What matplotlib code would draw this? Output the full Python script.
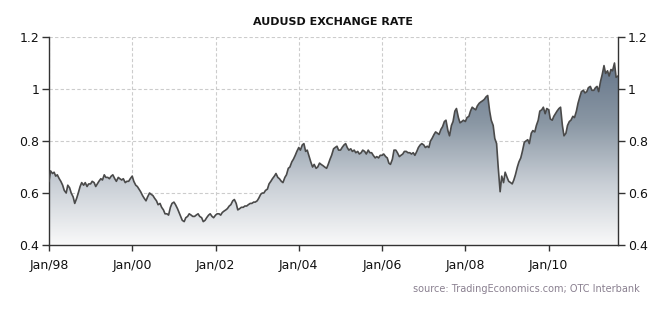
import matplotlib
matplotlib.use('Agg')
import numpy as np
import pandas as pd
import matplotlib.pyplot as plt
import matplotlib.dates as mdates
from matplotlib.colors import LinearSegmentedColormap

# AUDUSD, dois valores por mês (dia 1 e dia 15), jan/1998 - set/2011
rate_1998 = [0.645, 0.685, 0.675, 0.68, 0.665, 0.67, 0.655, 0.645, 0.63, 0.61, 0.60, 0.63,
             0.62, 0.60, 0.585, 0.56, 0.58, 0.60, 0.625, 0.64, 0.63, 0.64, 0.625, 0.635]
rate_1999 = [0.635, 0.645, 0.64, 0.625, 0.635, 0.645, 0.655, 0.65, 0.67, 0.66, 0.66, 0.655,
             0.665, 0.67, 0.655, 0.645, 0.66, 0.655, 0.65, 0.655, 0.64, 0.645, 0.645, 0.655]
rate_2000 = [0.665, 0.645, 0.63, 0.625, 0.615, 0.605, 0.59, 0.58, 0.57, 0.585, 0.60, 0.595,
             0.59, 0.58, 0.57, 0.555, 0.56, 0.545, 0.535, 0.52, 0.52, 0.515, 0.545, 0.56]
rate_2001 = [0.565, 0.555, 0.54, 0.525, 0.51, 0.495, 0.49, 0.505, 0.51, 0.52, 0.515, 0.51,
             0.51, 0.515, 0.52, 0.51, 0.505, 0.49, 0.495, 0.505, 0.515, 0.52, 0.51, 0.505]
rate_2002 = [0.515, 0.52, 0.52, 0.515, 0.525, 0.53, 0.535, 0.54, 0.55, 0.555, 0.57, 0.575,
             0.56, 0.535, 0.54, 0.545, 0.545, 0.55, 0.55, 0.555, 0.56, 0.56, 0.565, 0.565]
rate_2003 = [0.57, 0.58, 0.595, 0.60, 0.60, 0.61, 0.615, 0.635, 0.645, 0.655, 0.665, 0.675,
             0.66, 0.655, 0.645, 0.64, 0.66, 0.67, 0.695, 0.70, 0.72, 0.73, 0.745, 0.76]
rate_2004 = [0.775, 0.765, 0.785, 0.79, 0.76, 0.765, 0.74, 0.72, 0.70, 0.71, 0.695, 0.70,
             0.715, 0.71, 0.705, 0.70, 0.695, 0.71, 0.73, 0.745, 0.77, 0.775, 0.78, 0.765]
rate_2005 = [0.765, 0.775, 0.785, 0.79, 0.775, 0.765, 0.77, 0.76, 0.765, 0.755, 0.76, 0.75,
             0.755, 0.765, 0.76, 0.75, 0.765, 0.755, 0.755, 0.745, 0.735, 0.74, 0.735, 0.745]
rate_2006 = [0.745, 0.75, 0.74, 0.735, 0.715, 0.71, 0.73, 0.765, 0.765, 0.755, 0.74, 0.745,
             0.75, 0.76, 0.76, 0.755, 0.755, 0.75, 0.755, 0.745, 0.76, 0.775, 0.785, 0.79]
rate_2007 = [0.785, 0.775, 0.78, 0.775, 0.80, 0.81, 0.825, 0.835, 0.83, 0.825, 0.845, 0.855,
             0.875, 0.88, 0.84, 0.82, 0.86, 0.875, 0.915, 0.925, 0.89, 0.87, 0.875, 0.88]
rate_2008 = [0.875, 0.89, 0.895, 0.915, 0.93, 0.925, 0.92, 0.935, 0.945, 0.95, 0.955, 0.96,
             0.97, 0.975, 0.915, 0.88, 0.86, 0.81, 0.79, 0.70, 0.605, 0.665, 0.64, 0.68]
rate_2009 = [0.66, 0.645, 0.64, 0.635, 0.65, 0.67, 0.70, 0.72, 0.735, 0.76, 0.795, 0.80,
             0.805, 0.79, 0.83, 0.84, 0.835, 0.86, 0.88, 0.915, 0.92, 0.93, 0.905, 0.925]
rate_2010 = [0.92, 0.885, 0.88, 0.895, 0.905, 0.915, 0.925, 0.93, 0.86, 0.82, 0.83, 0.86,
             0.875, 0.88, 0.895, 0.89, 0.915, 0.945, 0.97, 0.99, 0.995, 0.985, 0.99, 1.005]
rate_2011 = [1.01, 0.995, 0.995, 1.005, 1.01, 0.99, 1.03, 1.055, 1.09, 1.06, 1.07, 1.05,
             1.075, 1.07, 1.10, 1.045, 1.05]

y_ticks = [0.4, 0.6, 0.8, 1.0, 1.2]
y_labels = ['0.4', '0.6', '0.8', '1', '1.2']
x_ticks = ['1998-01-01', '2000-01-01', '2002-01-01', '2004-01-01',
           '2006-01-01', '2008-01-01', '2010-01-01']
x_labels = ['Jan/98', 'Jan/00', 'Jan/02', 'Jan/04', 'Jan/06', 'Jan/08', 'Jan/10']

rate = (rate_1998 + rate_1999 + rate_2000 + rate_2001 + rate_2002 + rate_2003 +
        rate_2004 + rate_2005 + rate_2006 + rate_2007 + rate_2008 + rate_2009 +
        rate_2010 + rate_2011)
datas = pd.date_range('1998-01-01', periods=len(rate), freq='SMS')
x = mdates.date2num(datas)

fig = plt.figure(figsize=(6.6, 3.12), dpi=100)
ax = fig.add_axes([0.0742, 0.2147, 0.8622, 0.6667])

ymin, ymax = 0.4, 1.2
# preenchimento em degradê por baixo da linha
cmap = LinearSegmentedColormap.from_list('grad', ['#f9f9f9', '#c9cfd6', '#8a97a4', '#66768a'])
grad = np.linspace(0, 1, 256).reshape(-1, 1)
im = ax.imshow(grad, cmap=cmap, aspect='auto', origin='lower',
               extent=[x[0], x[-1], ymin, max(rate)], zorder=1)
poly = ax.fill_between(x, rate, ymin, color='none', lw=0)
clip = poly.get_paths()[0]
im.set_clip_path(clip, transform=ax.transData)

ax.plot(x, rate, color='#4a4a4a', lw=1.2, zorder=3)

ax.set_xlim(x[0], x[-1])
ax.set_ylim(ymin, ymax)
ax.set_yticks(y_ticks)
ax.set_yticklabels(y_labels)
ax.set_xticks(mdates.date2num(pd.to_datetime(x_ticks)))
ax.set_xticklabels(x_labels)

ax.grid(True, color='#cccccc', linestyle=(0, (3, 2)), lw=0.8, zorder=0)
ax.set_axisbelow(True)
for lado in ['left', 'right', 'bottom']:
    ax.spines[lado].set_color('#333333')
    ax.spines[lado].set_linewidth(1.0)
ax.spines['top'].set_visible(False)

ax.tick_params(axis='y', which='both', left=True, right=True, labelleft=True,
               labelright=True, direction='out', length=5, width=1,
               color='#333333', labelsize=9, labelcolor='#111111', pad=2)
ax.tick_params(axis='x', direction='out', length=4, width=1, color='#333333',
               labelsize=9, labelcolor='#111111', pad=6)

fig.text(0.505, 0.93, 'AUDUSD EXCHANGE RATE', ha='center', va='center',
         fontsize=8, fontweight='semibold', color='#111111')
fig.text(0.97, 0.074, 'source: TradingEconomics.com; OTC Interbank', ha='right',
         va='center', fontsize=7, color='#8a8090')

fig.savefig('out.png', dpi=100)
